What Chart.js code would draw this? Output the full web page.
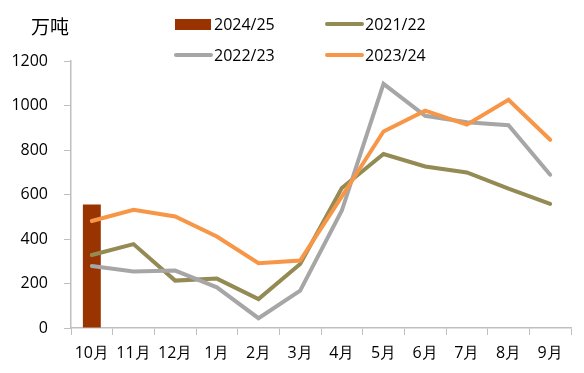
<!DOCTYPE html>
<html>
<head>
<meta charset="utf-8">
<script src="https://cdn.jsdelivr.net/npm/chart.js@4"></script>
<style>
  html, body { margin: 0; padding: 0; background: #fff; }
  #wrap { position: relative; width: 584px; height: 373px; }
</style>
</head>
<body>
<div id="wrap"><canvas id="chart" width="584" height="373"></canvas></div>
<script>
// Data
const months = ['10月', '11月', '12月', '1月', '2月', '3月', '4月', '5月', '6月', '7月', '8月', '9月'];
const season2425 = [555, null, null, null, null, null, null, null, null, null, null, null];
const season2122 = [328, 377, 213, 222, 130, 288, 629, 782, 726, 699, 626, 558];
const season2223 = [279, 254, 258, 183, 44, 168, 528, 1097, 954, 925, 911, 689];
const season2324 = [481, 531, 501, 411, 291, 303, 591, 883, 977, 914, 1026, 846];
const yTicks = [0, 200, 400, 600, 800, 1000, 1200];

const AXIS_GREY = '#bfbfbf';
const TICK_FONT = { family: 'Open Sans', size: 16 };

// Two-row legend drawn above the plot, like the original
const legendPlugin = {
  id: 'twoRowLegend',
  afterDraw(chart) {
    const ctx = chart.ctx;
    const ds = chart.data.datasets;
    const slots = [
      { i: 0, x: 175, y: 24 },
      { i: 1, x: 326, y: 24 },
      { i: 2, x: 175, y: 55 },
      { i: 3, x: 326, y: 55 }
    ];
    ctx.save();
    ctx.font = '16px "Open Sans"';
    ctx.textBaseline = 'middle';
    ctx.fillStyle = '#000';
    slots.forEach(s => {
      const d = ds[s.i];
      if (d.type === 'bar') {
        ctx.fillStyle = d.backgroundColor;
        ctx.fillRect(s.x, s.y - 5, 36, 11);
      } else {
        ctx.strokeStyle = d.borderColor;
        ctx.lineWidth = 4;
        ctx.lineCap = 'round';
        ctx.beginPath();
        ctx.moveTo(s.x + 1, s.y);
        ctx.lineTo(s.x + 36, s.y);
        ctx.stroke();
      }
      ctx.fillStyle = '#000';
      ctx.fillText(d.label, s.x + 39, s.y + 1);
    });
    // unit label
    ctx.font = '19px "Noto Sans CJK SC"';
    ctx.fillText('万吨', 31, 27);
    ctx.restore();
  }
};

new Chart(document.getElementById('chart'), {
  data: {
    labels: months,
    datasets: [
      {
        type: 'bar',
        label: '2024/25',
        data: season2425,
        backgroundColor: '#993300',
        categoryPercentage: 1,
        barPercentage: 0.43,
        order: 10
      },
      {
        type: 'line',
        label: '2021/22',
        data: season2122,
        borderColor: '#948a54',
        borderWidth: 4,
        borderCapStyle: 'round',
        pointRadius: 0,
        tension: 0,
        order: 3
      },
      {
        type: 'line',
        label: '2022/23',
        data: season2223,
        borderColor: '#a6a6a6',
        borderWidth: 4,
        borderCapStyle: 'round',
        pointRadius: 0,
        tension: 0,
        order: 2
      },
      {
        type: 'line',
        label: '2023/24',
        data: season2324,
        borderColor: '#f79646',
        borderWidth: 4,
        borderCapStyle: 'round',
        pointRadius: 0,
        tension: 0,
        order: 1
      }
    ]
  },
  options: {
    responsive: false,
    animation: false,
    layout: { padding: { top: 61, right: 13, left: 0, bottom: 0 } },
    plugins: {
      legend: { display: false },
      tooltip: { enabled: false }
    },
    scales: {
      x: {
        offset: true,
        grid: {
          offset: true,
          drawOnChartArea: false,
          color: AXIS_GREY,
          tickLength: 7
        },
        border: { color: AXIS_GREY, width: 1.5 },
        ticks: { color: '#000', font: TICK_FONT, padding: 9, maxRotation: 0, autoSkip: false },
        afterFit(s) { s.height = 45; }
      },
      y: {
        min: 0,
        max: 1200,
        afterBuildTicks(s) { s.ticks = yTicks.map(v => ({ value: v })); },
        grid: {
          drawOnChartArea: false,
          color: AXIS_GREY,
          tickLength: 7
        },
        border: { color: AXIS_GREY, width: 1.5 },
        ticks: { color: '#000', font: TICK_FONT, padding: 16, callback: v => String(v) },
        afterFit(s) { s.width = 71; }
      }
    }
  },
  plugins: [legendPlugin]
});
</script>
</body>
</html>
